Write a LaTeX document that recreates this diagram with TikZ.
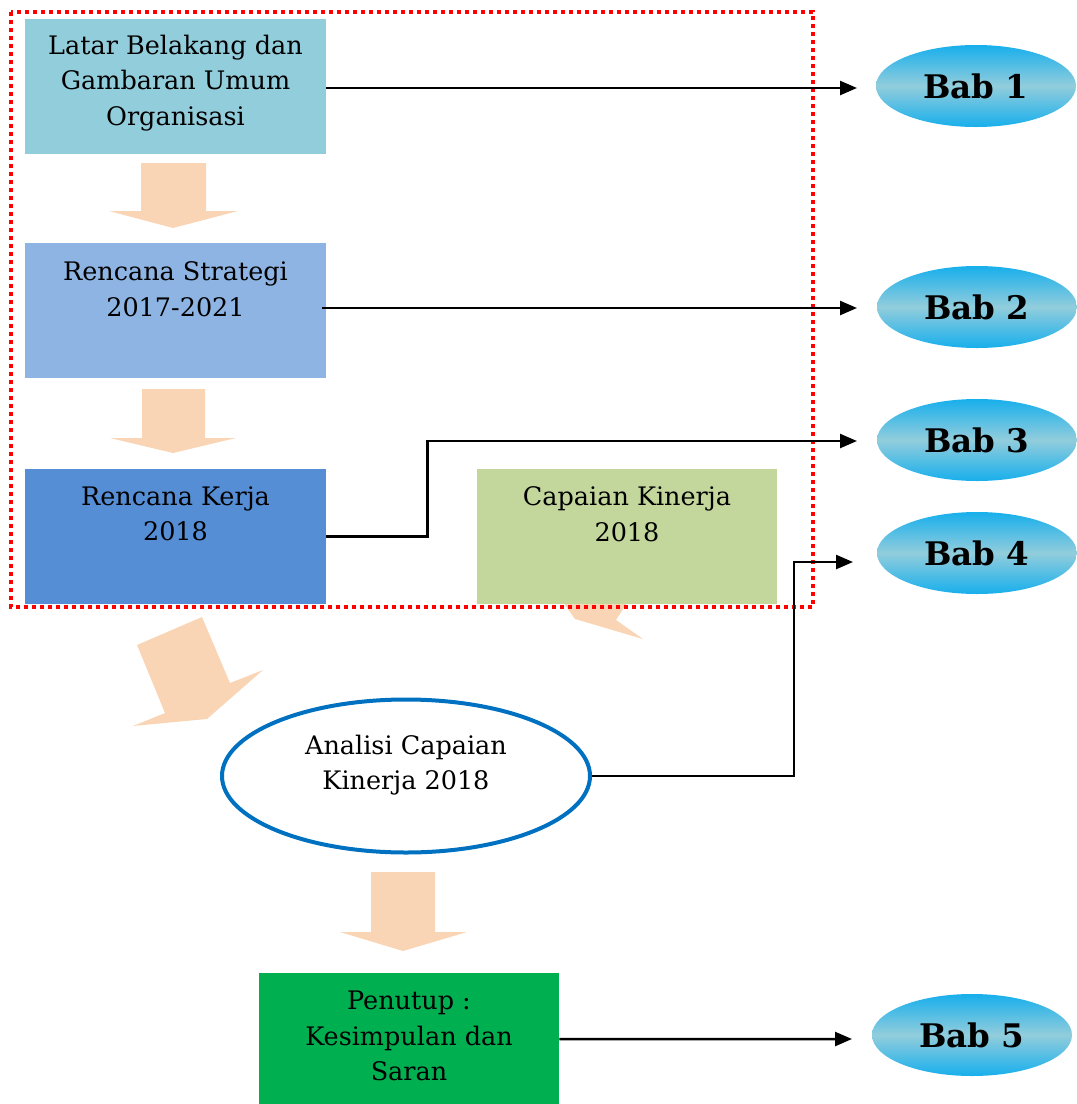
\documentclass[tikz,border=0pt]{standalone}
\usepackage{fontspec}
\setmainfont{DejaVu Serif}
\usetikzlibrary{arrows.meta,shapes.geometric}
\definecolor{cbox1}{HTML}{92CDDC}
\definecolor{cbox2}{HTML}{8EB4E3}
\definecolor{cbox3}{HTML}{558ED5}
\definecolor{cbox4}{HTML}{C3D69B}
\definecolor{cbox5}{HTML}{00B050}
\definecolor{peach}{HTML}{FAD5B5}
\definecolor{ellblue}{HTML}{0070C0}
\definecolor{babout}{HTML}{17AFEC}
\definecolor{babin}{HTML}{92CDDC}
\tikzset{
  boxnode/.style={rectangle, draw=none, minimum width=301pt, minimum height=135pt, anchor=north west, inner sep=0pt},
  txt/.style={align=center, font=\fontsize{25.5}{35.5}\selectfont, inner sep=0pt},
  babnode/.style={ellipse, minimum width=200pt, minimum height=82pt, inner sep=0pt,
     top color=babout, bottom color=babout, middle color=babin,
     font=\fontsize{32.5}{36}\selectfont\bfseries},
  conn/.style={line width=2.5pt, -{Triangle[length=17pt,width=14pt]}},
  bigarrow/.style={fill=peach, draw=none},
}
\begin{document}
\begin{tikzpicture}[x=1pt,y=-1pt]
\useasboundingbox (0,0) rectangle (1077,1104);
% peach arrows
\fill[bigarrow] (141,163) -- (206,163) -- (206,211) -- (238,211) -- (173,228) -- (109,211) -- (141,211) -- cycle;
\fill[bigarrow] (142,389) -- (205,389) -- (205,438) -- (236,438) -- (173,453) -- (110,438) -- (142,438) -- cycle;
\fill[bigarrow] (137,645) -- (202,617) -- (230,683) -- (263,670) -- (207,719) -- (133,726) -- (165,713) -- cycle;
\fill[bigarrow] (560,598) -- (630,598) -- (616,620) -- (643,639) -- (575,619) -- cycle;
\fill[bigarrow] (371,872) -- (435,872) -- (435,932) -- (467,932) -- (403,951) -- (340,932) -- (371,932) -- cycle;
% boxes
\node[boxnode, fill=cbox1] (b1) at (25,19) {};
\node[txt] (t1) at (175.5,83) {Latar Belakang dan\\Gambaran Umum\\Organisasi};
\node[boxnode, fill=cbox2] (b2) at (25,243) {};
\node[txt] (t2) at (175.5,289) {Rencana Strategi\\2017-2021};
\node[boxnode, fill=cbox3] (b3) at (25,469) {};
\node[txt] (t3) at (175.5,514) {Rencana Kerja\\2018};
\node[boxnode, fill=cbox4, minimum width=300pt] (b4) at (477,469) {};
\node[txt] (t4) at (627,514) {Capaian Kinerja\\2018};
\node[boxnode, fill=cbox5, minimum width=300pt, minimum height=132pt] (b5) at (259,973) {};
\node[txt] (t5) at (409,1036) {Penutup :\\Kesimpulan dan\\Saran};
% ellipse
\node[ellipse, draw=ellblue, line width=4pt, minimum width=368pt, minimum height=153pt, inner sep=0pt] (an) at (406,776) {};
\node[txt] (tan) at (406,765) {Analisi Capaian\\Kinerja 2018};
% red dotted frame
\draw[red, line width=4pt, dash pattern=on 4pt off 4pt] (11,12) rectangle (813,607);
% bab ellipses
\node[babnode] (bab1) at (976,86) {Bab 1};
\node[babnode] (bab2) at (977,307) {Bab 2};
\node[babnode] (bab3) at (977,440) {Bab 3};
\node[babnode] (bab4) at (977,553) {Bab 4};
\node[babnode] (bab5) at (972,1035) {Bab 5};
% connectors
\coordinate (e1) at (857,88);
\coordinate (e2) at (857,308);
\coordinate (e3) at (857,441);
\coordinate (e4) at (853,562);
\coordinate (e5) at (852,1039);
\draw[conn] (326,88) -- (e1);
\draw[conn] (322,308) -- (e2);
\draw[conn] (b3.east) -- ++(101,0) |- (e3);
\draw[conn] (an.east) -- ++(202,0) |- (e4);
\draw[conn] (b5.east) -- (e5);
\end{tikzpicture}
\end{document}
